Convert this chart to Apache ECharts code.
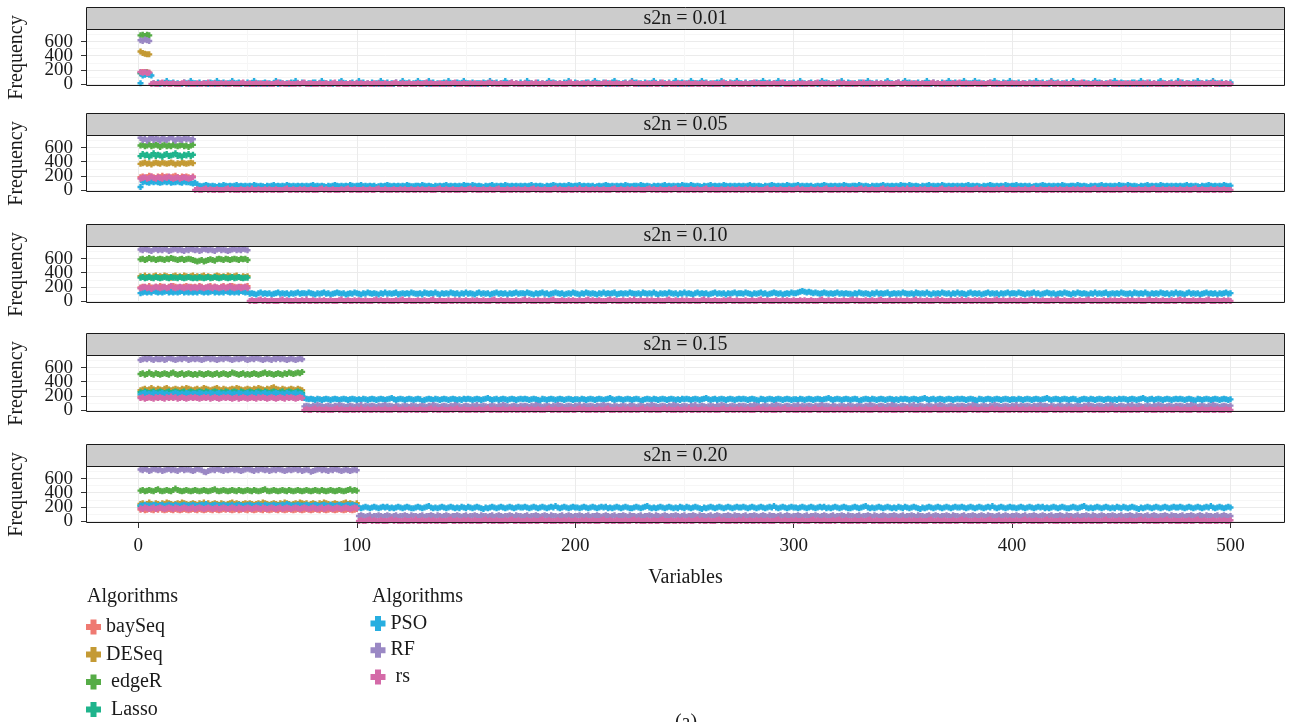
<!DOCTYPE html>
<html><head><meta charset="utf-8">
<script src="https://cdn.jsdelivr.net/npm/echarts@6/dist/echarts.min.js"></script>
<style>html,body{margin:0;padding:0;background:#fff}#c{width:1290px;height:722px}</style>
</head><body><div id="c"></div>
<script>
// ---------------- data ----------------
const PANELS = ['s2n = 0.01', 's2n = 0.05', 's2n = 0.10', 's2n = 0.15', 's2n = 0.20'];
const K = [5, 25, 50, 75, 100];            // informative variables (x = 1..K) per panel
const ALGOS = ['baySeq', 'DESeq', 'edgeR', 'Lasso', 'PSO', 'RF', 'rs'];
const COLORS = ['#EF7A72', '#C49A34', '#56AC47', '#1FB48C', '#27AEE0', '#9A88C4', '#D46AA8'];
const X_TICKS = [0, 100, 200, 300, 400, 500];
const Y_TICKS = [0, 200, 400, 600];

// Frequencies of informative variables x = 1..K, two digits per variable, in tens.
const baySeqSig = [
`1617151716`,
`18191718201918171918201819171819201817191819181719`,
`19201819211918201921201918201921201918192021192019
 20192120181920211920191820211920192120191820192021`,
`19182019181920181920191820191819201918201918192019
 18192019182019181920191819201819201918192019182019
 19182019181920191820191819201918201918192018192019`,
`16171516171615171618161516171615171615161716151617
 16151716151617161517161516171618161516171516171615
 17161516171615171615161716151716151617161516171615
 16171615161716151716151617161516171615161716151617`];
const deseqSig = [
`4644434242`,
`37383937383638393837393837383938363837393837383938`,
`35343634353335363435343635343335363435343635343536
 34353335363435343335363534353436353435363433353435`,
`28293028293129283029283031292829302928302931302928
 29302829313029282930312928302928293029313029282930
 29283029313029283029313230292830292829302928302928`,
`24252324262423252423252426252423242524262524232425
 24232524262425232425242325242324252624252423242524
 25242324252426252423242524232524262524232425242625
 24252324252423252426252423242524232425262425242325`];
const edgeRSig = [
`6970687069`,
`63646263656263646361636462636264636263646263616364`,
`59605859615960585960595860596160595859605859605958
 57565758565758595857596059586059585960595860596058`,
`51525051535150525150515251505253515051525051525150
 51505251505152515051525051525150515352515051525051
 50515251505152535152515051525150525153525152535254`,
`43444243444342444543424344434244464443424344434243
 44434243444342434445434243444342434443424443424344
 43424443424344454342434443424344434244434243444342
 43444342434443424443424344434243444342434445434443`];
const lassoSig = [
`1514151614`,
`48514950474952485049475051484950524849475049514850`,
`33343233343332343332333433323433333234333233343332
 33323433323334323334333233343332333432333433323333`,
`25242625242526242526252425262425262524252624252625
 24252625242625242526252425242625242526252426252425
 26252425262524262524252625242526242526252425262524`,
`21222021222120222122212021222120222121222021222120
 21202221222120212221202221202122212021222122202122
 22212021222120222122212021222120212221202221202122
 21222120212221202221202122212021222120212221202121`];
const psoSig = [
`0112131413`,
`04111211101211121110111211121011111211101211111009`,
`11121312131214131213121314121312131213141213121312
 13121413121312131412131213121413121312131214131213`,
`22232422232224232223242223212223242322232224232223
 23222423222322242322232422232223242223222423222324
 22232224232223242223222324232223222423222324222322`,
`22212322212223222122232122232221232221222322212223
 22212223222422212223222122232221222321222322212222
 23222122232221232221222322212223222423222122232221
 22232221222322212223222123222122232221222322232221`];
const rfSig = [
`6261636261`,
`74717370727571737270747271737572707372717472737172`,
`73727473727173747273727473717273747273727173727473
 72737172747372737271737472737271727374727372747372`,
`71727372747271737272737172747372717273727473717273
 72737271727374727372717273727473727172737273747271
 72737274737271727372717372747273727172737271727372`,
`73727473717274737273717273747273727173747273737271
 72747372706971727372747372717372737472737271727374
 73727173727473727371727372747372717273727374727371
 72737270717273747273727173727473727172737271727372`];
const rsSig = [
`1716171516`,
`16171816171917161817161817191716171816171817161718`,
`18192018191719201918192018192119181920191819201819
 19182019181920191820191819201819211918192018192018`,
`17181617181716181718171618171917181617181716171817
 18171617181718161718171617181718171617181617181716
 17181716181718171617181716171817161817181716171817`,
`18171918171819171819181718191817191817181918171819
 17181918171819181718191718191817181918171918171819
 18171819181719181718191817181917181918171819181718
 19181718191817181917181918171819181718191817181918`];

// Non-informative variables x = K+1..500.  PSO: two digits per variable, in tens.
const psoNoise = [
`12010002000100040001020001000002010004000100020001
 01000201000400010200010004000102000100020001040001
 00010200010001040002010001000200040100020100010002
 02000104000100020001000204000100010200010400020001
 00020001000401000200010002000104000102000100040001
 01000400020001000102000400010002010004000100020001
 01000201000400010200010004000102000100020001040001
 00010200010001040002010001000200040100020100010002
 02000104000100020001000204000100010200010400020001
 00020001000401000200010002000104000102000100040001
 01000400020001000102000400010002010004000100020001
 01000201000400010200010004000102000100020001040001
 00010200010001040002010001000200040100020100010002
 02000104000100020001000204000100010200010400020001
 00020001000401000200010002000104000102000100040001
 01000400020001000102000400010002010004000100020001
 01000201000400010200010004000102000100020001040001
 00010200010001040002010001000200040100020100010002
 02000104000100020001000204000100010200010400020001
 0100020004000100020100040001000200010002`,
`10080605060706050605040605070605060506070506050605
 06050706050605040605060705060506050706050605060506
 05060506070506050605040605060706050605060507060506
 06070506050605060405060506070605060506050605070605
 05060605070605060504060506050607050605060506050706
 06050706050605040605060705060506050706050605060506
 05060506070506050605040605060706050605060507060506
 06070506050605060405060506070605060506050605070605
 05060605070605060504060506050607050605060506050706
 06050706050605040605060705060506050706050605060506
 05060506070506050605040605060706050605060507060506
 06070506050605060405060506070605060506050605070605
 05060605070605060504060506050607050605060506050706
 06050706050605040605060705060506050706050605060506
 05060506070506050605040605060706050605060507060506
 06070506050605060405060506070605060506050605070605
 05060605070605060504060506050607050605060506050706
 06050706050605040605060705060506050706050605060506
 05060506070506050605040605060706050605060507060506`,
`10111009111210111011091011121011101109111011121011
 11101211100911101112101109101112111011091011101211
 10091110121110111009111012101110111209101110111012
 11101011091211101110121009111011101211101109111012
 10111009111210111011091011121011101109111011121011
 11101211100911101112101109101112111011091011101211
 10091110121110111009111012101110111209101110111012
 11101011091211101110121009111011101211101109111012
 10111009111210111011091011121011101109111011121011
 11101211100911101112101109101112111011091011101211
 11121314131213121112111011121110111011121011101110
 10091110121110111009111012101110111209101110111012
 11101011091211101110121009111011101211101109111012
 10111009111210111011091011121011101109111011121011
 11101211100911101112101109101112111011091011101211
 10091110121110111009111012101110111209101110111012
 11101011091211101110121009111011101211101109111012
 10111009111210111011091011121011101109111011121011`,
`17161516151416151415161514151615141516151415161514
 15141615141516151415161514151617151415161514151615
 14151615131415161514161514151615141516151415141615
 16151415161514151617151415161415161514151615141516
 15161514151615141316151415161514151615141516151415
 15141615141516151415161514151617151415161514151615
 14151615131415161514161514151615141516151415141615
 16151415161514151617151415161415161514151615141516
 15161514151615141316151415161514151615141516151415
 15141615141516151415161514151617151415161514151615
 14151615131415161514161514151615141516151415141615
 16151415161514151617151415161415161514151615141516
 15161514151615141316151415161514151615141516151415
 15141615141516151415161514151617151415161514151615
 14151615131415161514161514151615141516151415141615
 16151415161514151617151415161415161514151615141516
 15161514151615141316151415161514151615141516151415`,
`19181920191819201918192019201819181920191819201918
 18192019181920211918191819201918192019181918201918
 20191819201918171918192019181920191819201918192019
 19201918192019181920191819201921191819201918192019
 19181920191819201918192019201819181920191819201918
 18192019181920211918191819201918192019181918201918
 20191819201918171918192019181920191819201918192019
 19201918192019181920191819201921191819201918192019
 19181920191819201918192019201819181920191819201918
 18192019181920211918191819201918192019181918201918
 20191819201918171918192019181920191819201918192019
 19201918192019181920191819201921191819201918192019
 19181920191819201918192019201819181920191819201918
 18192019181920211918191819201918192019181918201918
 20191819201918171918192019181920191819201918192019
 19201918192019181920191819201921191819201918192019`];

// Non-informative variables x = K+1..500.  RF and rs: one digit per variable, in tens.
const rfNoise = ['', '', '',
`56546576545654657654565465746556546567565465456546
 65456546576545654657654565465745654565465765456546
 56546576545654657654565465746556546567565465456546
 65456546576545654657654565465745654565465765456546
 56546576545654657654565465746556546567565465456546
 65456546576545654657654565465745654565465765456546
 56546576545654657654565465746556546567565465456546
 65456546576545654657654565465745654565465765456546
 5654657654565465765456546`,
`78767867787678767867787687767867787687678767787678
 67787687767867876778768776786778767876877678678767
 78767867787678767867787687767867787687678767787678
 67787687767867876778768776786778767876877678678767
 78767867787678767867787687767867787687678767787678
 67787687767867876778768776786778767876877678678767
 78767867787678767867787687767867787687678767787678
 67787687767867876778768776786778767876877678678767`];
const rsNoise = [
`01001201001000120100010010200100101001000120010010
 10010001201001000101200100010010012001000100101001
 00101001000120010010001001201000100100120001001010
 01001201001000120100010010200100101001000120010010
 10010001201001000101200100010010012001000100101001
 00101001000120010010001001201000100100120001001010
 01001201001000120100010010200100101001000120010010
 10010001201001000101200100010010012001000100101001
 00101001000120010010001001201000100100120001001010
 010010200100010010010200100010010010200100100`,
`01001201001000120100010010200100101001000120010010
 10010001201001000101200100010010012001000100101001
 00101001000120010010001001201000100100120001001010
 01001201001000120100010010200100101001000120010010
 10010001201001000101200100010010012001000100101001
 00101001000120010010001001201000100100120001001010
 01001201001000120100010010200100101001000120010010
 10010001201001000101200100010010012001000100101001
 00101001000120010010001001201000100100120001001010
 0100100120010001001001000`,
`01001201001000120100010010200100101001000120010010
 10010001201001000101200100010010012001000100101001
 00101001000120010010001001201000100100120001001010
 01001201001000120100010010200100101001000120010010
 10010001201001000101200100010010012001000100101001
 00101001000120010010001001201000100100120001001010
 01001201001000120100010010200100101001000120010010
 10010001201001000101200100010010012001000100101001
 00101001000120010010001001201000100100120001001010`,
`01001201001000120100010010200100101001000120010010
 10010001201001000101200100010010012001000100101001
 00101001000120010010001001201000100100120001001010
 01001201001000120100010010200100101001000120010010
 10010001201001000101200100010010012001000100101001
 00101001000120010010001001201000100100120001001010
 01001201001000120100010010200100101001000120010010
 10010001201001000101200100010010012001000100101001
 1001000120010001001000100`,
`01001201001000120100010010200100101001000120010010
 10010001201001000101200100010010012001000100101001
 00101001000120010010001001201000100100120001001010
 01001201001000120100010010200100101001000120010010
 10010001201001000101200100010010012001000100101001
 00101001000120010010001001201000100100120001001010
 01001201001000120100010010200100101001000120010010
 10010001201001000101200100010010012001000100101001`];

// ---------------- chart ----------------
const two = s => (s.replace(/\s+/g, '').match(/\d\d/g) || []).map(d => +d * 10);
const one = s => s.replace(/\s+/g, '').split('').filter(c => c).map(d => +d * 10);
const SIG = [baySeqSig, deseqSig, edgeRSig, lassoSig, psoSig, rfSig, rsSig];

const FONT = 'Liberation Serif';
const INK = '#1A1A1A';
const PLUS = 'path://M3,0H7V3H10V7H7V10H3V7H0V3H3Z';
const TOPS = [29, 135, 246, 355, 466], PH = 57, SH = 22, L = 86, W = 1199;
const NY = Y_TICKS.length;                 // one value axis per tick label, all sharing the panel scale

const series = [];
PANELS.forEach((ttl, p) => {
  ALGOS.forEach((name, a) => {
    const data = two(SIG[a][p]).map((v, i) => [i + 1, v]);
    let noise = [];
    if (name === 'PSO') noise = two(psoNoise[p]);
    else if (name === 'RF') noise = one(rfNoise[p]);
    else if (name === 'rs') noise = one(rsNoise[p]);
    noise.forEach((v, i) => data.push([K[p] + 1 + i, v]));
    series.push({
      type: 'scatter', name, xAxisIndex: p, yAxisIndex: NY * p, data,
      symbol: PLUS, symbolSize: 6, silent: true, clip: true,
      itemStyle: { color: COLORS[a], opacity: 1 },
      emphasis: { disabled: true }
    });
  });
});

const grid = TOPS.map(t => ({ left: L, top: t, width: W, height: PH, show: true, backgroundColor: '#fff', borderWidth: 0 }));
const xAxis = TOPS.map((t, p) => ({
  type: 'value', gridIndex: p, min: -23.95, max: 524.95,
  axisLine: { show: false, onZero: false },
  axisTick: { show: p === 4, length: 5, customValues: X_TICKS, lineStyle: { color: '#333' } },
  axisLabel: { show: p === 4, customValues: X_TICKS, showMinLabel: true, showMaxLabel: true, fontFamily: FONT, fontSize: 19, color: INK, margin: 14 },
  splitLine: { show: true, lineStyle: { color: '#EBEBEB', width: 1 } },
  minorTick: { show: false, splitNumber: 2 },
  minorSplitLine: { show: true, lineStyle: { color: '#F6F6F6', width: 1 } }
}));
const yAxis = [];
TOPS.forEach((t, p) => {
  Y_TICKS.forEach((tick, j) => {
    yAxis.push({
      type: 'value', gridIndex: p, min: -30, max: 780, position: 'left', offset: 0,
      axisLine: { show: false, onZero: false },
      axisTick: j === 0 ? { show: true, length: 5, customValues: Y_TICKS, lineStyle: { color: '#333' } } : { show: false },
      axisLabel: { customValues: [tick], showMinLabel: true, showMaxLabel: true, hideOverlap: false,
        fontFamily: FONT, fontSize: 19, color: INK, margin: 13 },
      splitLine: { show: j === 0, lineStyle: { color: '#EBEBEB', width: 1 } },
      minorTick: { show: false, splitNumber: 2 },
      minorSplitLine: { show: j === 0, lineStyle: { color: '#F6F6F6', width: 1 } }
    });
  });
});

const txt = (x, y, text, size, extra) => ({
  type: 'text', x, y, z: 101,
  style: Object.assign({ text, fontFamily: FONT, fontSize: size, fill: INK, align: 'center', verticalAlign: 'middle' }, extra || {})
});
const graphic = [];
TOPS.forEach((t, p) => {
  graphic.push({ type: 'rect', z: 100, silent: true, shape: { x: L + 0.5, y: t - SH + 0.5, width: W - 1, height: SH }, style: { fill: '#CCCCCC', stroke: INK, lineWidth: 1 } });
  graphic.push(txt(L + W / 2, t - SH / 2 + 0.5, PANELS[p], 20));
  graphic.push({ type: 'rect', z: 100, silent: true, shape: { x: L + 0.5, y: t + 0.5, width: W - 1, height: PH - 1 }, style: { fill: null, stroke: INK, lineWidth: 1 } });
  const f = txt(17, t + PH / 2, 'Frequency', 20);
  f.rotation = Math.PI / 2;
  graphic.push(f);
});
graphic.push(txt(L + W / 2, 578, 'Variables', 20));
graphic.push(txt(87, 597, 'Algorithms', 20, { align: 'left' }));
graphic.push(txt(372, 597, 'Algorithms', 20, { align: 'left' }));
graphic.push(txt(686, 713, '(a)', 20, { verticalAlign: 'top' }));

const legendBase = {
  orient: 'vertical', itemWidth: 15, itemHeight: 15, icon: PLUS, selectedMode: false,
  padding: 0, height: 200,
  textStyle: { fontFamily: FONT, fontSize: 20, color: INK },
  formatter: n => ({ edgeR: ' edgeR', Lasso: ' Lasso', rs: ' rs' }[n] || n)
};
const legend = [
  Object.assign({}, legendBase, { data: ['baySeq', 'DESeq', 'edgeR', 'Lasso'], left: 86, top: 617, itemGap: 7.5 }),
  Object.assign({}, legendBase, { data: ['PSO', 'RF', 'rs'], left: 370.5, top: 613.5, itemGap: 6.7 })
];

const chart = echarts.init(document.getElementById('c'), null, { renderer: 'canvas' });
chart.setOption({
  animation: false,
  backgroundColor: '#fff',
  textStyle: { fontFamily: FONT },
  grid, xAxis, yAxis, series, legend, graphic
});
</script>
</body></html>
